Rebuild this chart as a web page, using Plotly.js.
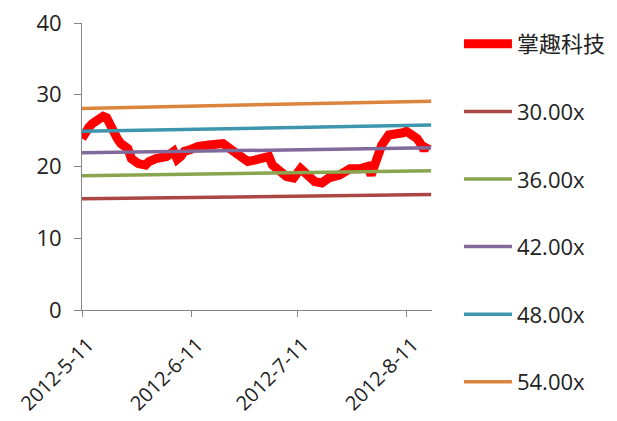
<!DOCTYPE html>
<html>
<head>
<meta charset="utf-8">
<script src="https://cdn.plot.ly/plotly-3.0.1.min.js"></script>
<style>html,body{margin:0;padding:0;background:#fff}#chart{width:617px;height:421px}</style>
</head>
<body>
<div id="chart"></div>
<script>
// Stock PE series (掌趣科技)
const stockDates = ['2012-05-11','2012-05-12','2012-05-13','2012-05-14','2012-05-15','2012-05-16','2012-05-17','2012-05-18','2012-05-19','2012-05-20','2012-05-21','2012-05-22','2012-05-23','2012-05-24','2012-05-25','2012-05-27','2012-05-29','2012-05-30','2012-06-01','2012-06-04','2012-06-06','2012-06-07','2012-06-08','2012-06-09','2012-06-11','2012-06-13','2012-06-16','2012-06-18','2012-06-20','2012-06-23','2012-06-25','2012-06-27','2012-06-29','2012-07-01','2012-07-03','2012-07-04','2012-07-06','2012-07-08','2012-07-10','2012-07-12','2012-07-14','2012-07-16','2012-07-18','2012-07-20','2012-07-23','2012-07-26','2012-07-29','2012-07-31','2012-08-01','2012-08-02','2012-08-03','2012-08-04','2012-08-06','2012-08-08','2012-08-10','2012-08-11','2012-08-13','2012-08-14','2012-08-15','2012-08-16','2012-08-17'];
const stockValues = [23.9,25.1,25.5,26.0,26.4,26.7,27.0,26.8,25.6,24.5,23.9,23.2,22.8,22.5,21.1,20.4,20.2,20.7,21.1,21.4,22.1,21.0,21.4,22.1,22.4,22.8,23.0,23.0,23.2,22.1,21.4,20.7,20.9,21.1,21.4,20.2,19.5,18.6,18.4,19.7,18.8,17.9,17.7,18.4,18.8,19.7,19.7,20.0,18.8,20.4,22.1,23.0,24.4,24.4,24.7,24.9,24.4,23.9,23.2,22.3,23.2];

// PE band lines (start and end of range)
const bandDates = ['2012-05-11','2012-08-18'];
const band30 = [15.5, 16.1];
const band36 = [18.7, 19.4];
const band42 = [21.9, 22.6];
const band48 = [24.9, 25.8];
const band54 = [28.1, 29.1];

const stockName = '掌趣科技';
const bandNames = ['30.00x','36.00x','42.00x','48.00x','54.00x'];
const bandColors = ['#AA4643','#89A54E','#80699B','#3D96AE','#DB843D'];

const tickVals = ['2012-05-11','2012-06-11','2012-07-11','2012-08-11'];
const tickText = ['2012-5-11','2012-6-11','2012-7-11','2012-8-11'];

const bands = [band30, band36, band42, band48, band54];
const traces = [{
  x: stockDates, y: stockValues, type: 'scatter', mode: 'lines', name: stockName,
  line: {color: '#FF0000', width: 9}, legendgroup: 'g0'
}];
bands.forEach((b, i) => traces.push({
  x: bandDates, y: b, type: 'scatter', mode: 'lines', name: bandNames[i],
  line: {color: bandColors[i], width: 3.5}, legendgroup: 'g' + (i + 1)
}));

const fam = '"Open Sans", "Noto Sans CJK SC", sans-serif';
const layout = {
  width: 617, height: 421,
  margin: {l: 82, r: 185, t: 23, b: 111, autoexpand: false},
  paper_bgcolor: '#fff', plot_bgcolor: '#fff',
  font: {family: fam, size: 22, color: '#222'},
  showlegend: true,
  legend: {
    x: 1.077, xanchor: 'left', y: 1.0, yanchor: 'top',
    traceorder: 'grouped', tracegroupgap: 36,
    font: {family: fam, size: 22, color: '#222'},
    itemwidth: 48, maxheight: 421
  },
  xaxis: {
    type: 'date', range: ['2012-05-11', '2012-08-18 06:00'],
    tickvals: tickVals, ticktext: tickText, tickangle: -45,
    showgrid: false, zeroline: false, showline: true, linecolor: '#868686', linewidth: 1,
    ticks: 'outside', ticklen: 6, tickcolor: '#868686', ticklabelstandoff: 8, ticklabelshift: 6,
    tickfont: {family: fam, size: 20, color: '#222'}
  },
  yaxis: {
    range: [0, 40], dtick: 10, tick0: 0,
    showgrid: false, zeroline: false, showline: true, linecolor: '#868686', linewidth: 1,
    ticks: 'outside', ticklen: 7, tickcolor: '#868686', ticklabelstandoff: 8,
    tickfont: {family: fam, size: 22, color: '#222'}
  }
};
Plotly.newPlot('chart', traces, layout, {staticPlot: true});
</script>
</body>
</html>
